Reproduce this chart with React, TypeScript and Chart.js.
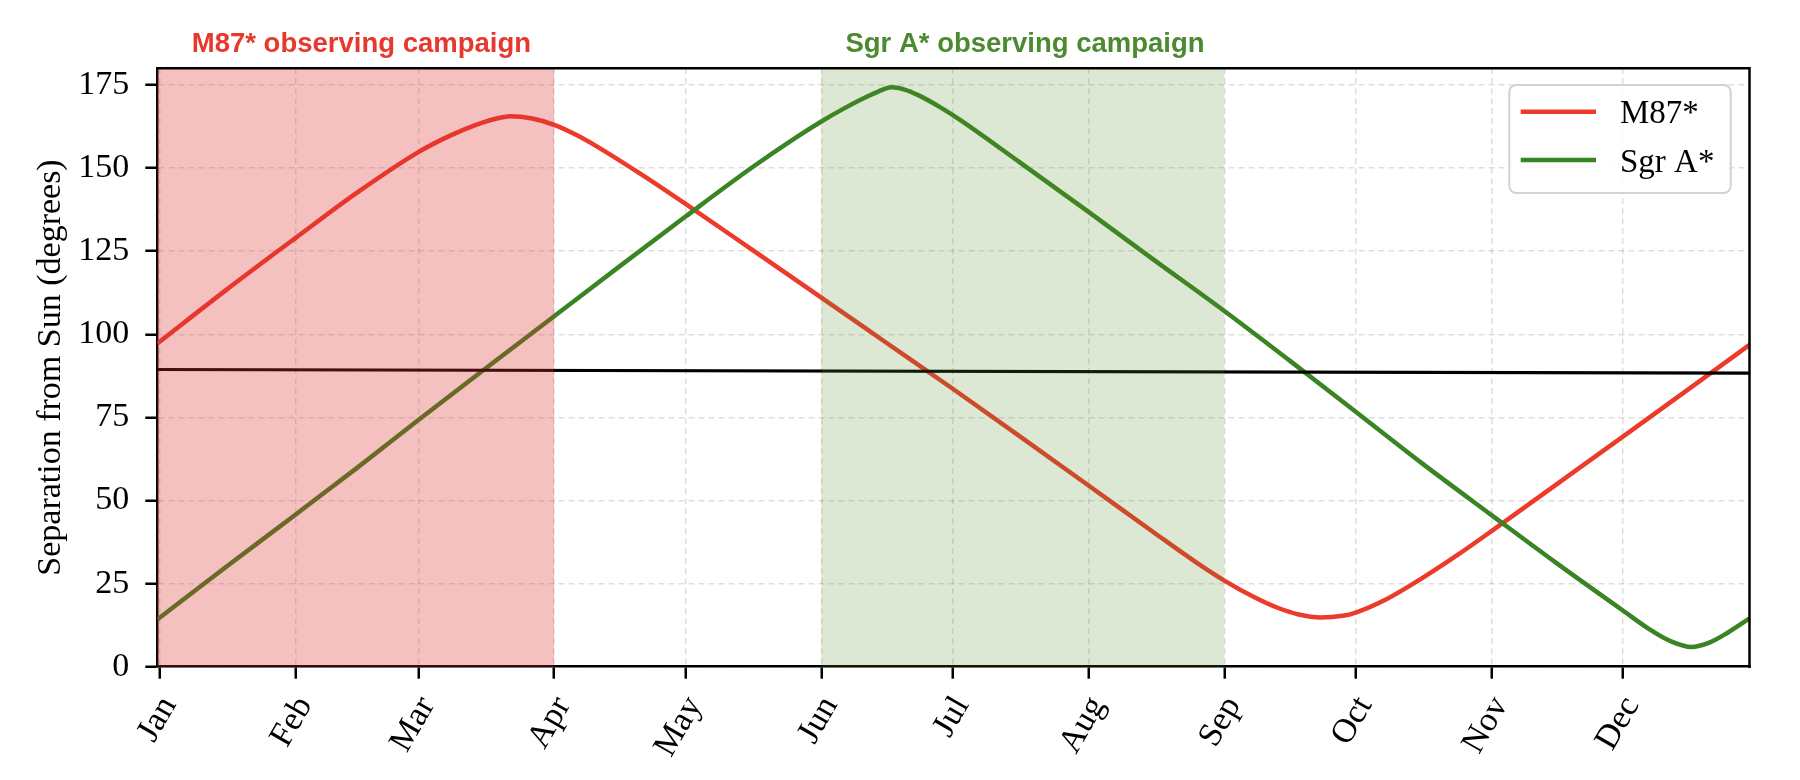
import React, { useEffect, useRef } from 'react';
import { Chart, registerables } from 'chart.js';

Chart.register(...registerables);

// ---------- data ----------
const monthLabels = ['Jan', 'Feb', 'Mar', 'Apr', 'May', 'Jun', 'Jul', 'Aug', 'Sep', 'Oct', 'Nov', 'Dec'];
const monthStartDays = [0, 31, 59, 90, 120, 151, 181, 212, 243, 273, 304, 334];
const yTickValues = [0, 25, 50, 75, 100, 125, 150, 175];
const xMinDay = -0.6;
const xMaxDay = 362.9;
const yMinDeg = 0;
const yMaxDeg = 180;

const seriesLabels = ['M87*', 'Sgr A*'];

const m87Days = [-0.6, 15, 31, 45, 59, 66, 72, 76, 80, 85, 90, 95, 100, 110, 120, 135, 151, 166, 181, 196, 212, 227, 237, 243, 250, 255, 260, 265, 270, 273, 280, 288, 296, 304, 319, 334, 349, 362.9];
const m87Separation = [97.2, 113.2, 129.0, 142.6, 154.8, 159.6, 162.9, 164.6, 165.6, 164.9, 163.0, 160.0, 156.3, 148.0, 139.2, 125.6, 111.0, 97.3, 83.6, 69.6, 54.5, 40.3, 31.0, 25.9, 20.8, 17.8, 15.7, 14.8, 15.3, 16.3, 20.3, 26.5, 33.4, 40.8, 55.0, 69.2, 83.5, 96.8];

const sgrDays = [-0.6, 15, 31, 45, 59, 75, 90, 105, 120, 135, 145, 151, 156, 161, 164, 167, 170, 173, 178, 183, 196, 212, 227, 243, 258, 273, 288, 304, 319, 334, 340, 345, 349.6, 354, 358, 362.9];
const sgrSeparation = [14.2, 29.9, 45.8, 59.8, 74.2, 90.4, 105.4, 120.5, 135.4, 150.0, 159.0, 164.0, 167.8, 171.2, 173.0, 174.3, 173.6, 172.0, 168.4, 164.2, 152.0, 136.8, 122.3, 107.0, 92.0, 76.7, 61.3, 45.6, 31.0, 16.9, 11.3, 7.6, 5.9, 7.4, 10.3, 14.5];

const refLineDays = [-0.6, 362.9];
const refLineValues = [89.4, 88.3];

const m87CampaignDays = [-0.6, 90];
const sgrCampaignDays = [151, 243];
const campaignTitles = ['M87* observing campaign', 'Sgr A* observing campaign'];
const campaignTitleDays = [46, 197.5];

// ---------- styles ----------
const RED = '#ec3a2b';
const GREEN = '#3a8424';
const RED_TITLE = '#e8372c';
const GREEN_TITLE = '#4c8a30';
const SERIF = "'Liberation Serif', 'Times New Roman', Times, serif";
const SANS = "'Liberation Sans', Arial, Helvetica, sans-serif";

const toXY = (xs: number[], ys: number[]) => xs.map((x, i) => ({ x, y: ys[i] }));

const decorPlugin = {
  id: 'decor',
  afterDatasetsDraw(chart: any) {
    const { ctx, chartArea: ca, scales } = chart;
    const xs = scales.x;
    const ys = scales.y;
    ctx.save();
    // campaign shading (drawn over the curves, like the reference)
    const shade = (days: number[], color: string) => {
      const x1 = Math.max(ca.left, xs.getPixelForValue(days[0]));
      const x2 = Math.min(ca.right, xs.getPixelForValue(days[1]));
      const yTop = ys.getPixelForValue(yMaxDeg);
      const yBot = ys.getPixelForValue(yMinDeg);
      ctx.fillStyle = color;
      ctx.fillRect(x1, yTop, x2 - x1, yBot - yTop);
    };
    shade(m87CampaignDays, 'rgba(218, 45, 45, 0.3)');
    shade(sgrCampaignDays, 'rgba(85, 140, 40, 0.2)');

    // top and right spines
    ctx.strokeStyle = '#000';
    ctx.lineWidth = 2.5;
    ctx.beginPath();
    ctx.moveTo(ca.left - 1.25, ca.top);
    ctx.lineTo(ca.right, ca.top);
    ctx.lineTo(ca.right, ca.bottom + 1.25);
    ctx.stroke();
    ctx.restore();
  },
  afterDraw(chart: any) {
    const { ctx, chartArea: ca, scales } = chart;
    const xs = scales.x;
    ctx.save();
    // campaign titles
    ctx.font = `bold 27.5px ${SANS}`;
    ctx.textAlign = 'center';
    ctx.textBaseline = 'alphabetic';
    ctx.fillStyle = RED_TITLE;
    ctx.fillText(campaignTitles[0], xs.getPixelForValue(campaignTitleDays[0]), ca.top - 16.6);
    ctx.fillStyle = GREEN_TITLE;
    ctx.fillText(campaignTitles[1], xs.getPixelForValue(campaignTitleDays[1]), ca.top - 16.6);

    // legend
    const boxW = 221.4;
    const boxH = 108;
    const bx = ca.right - 18.8 - boxW;
    const by = ca.top + 16.7;
    ctx.beginPath();
    (ctx as any).roundRect(bx, by, boxW, boxH, 7);
    ctx.fillStyle = 'rgba(255,255,255,0.85)';
    ctx.fill();
    ctx.strokeStyle = '#d2d2d2';
    ctx.lineWidth = 2;
    ctx.stroke();
    const colors = [RED, GREEN];
    ctx.font = `33px ${SERIF}`;
    ctx.textAlign = 'left';
    seriesLabels.forEach((lab, i) => {
      const ly = by + 26.7 + i * 48.3;
      ctx.strokeStyle = colors[i];
      ctx.lineWidth = 4.5;
      ctx.beginPath();
      ctx.moveTo(bx + 11.4, ly);
      ctx.lineTo(bx + 86.7, ly);
      ctx.stroke();
      ctx.fillStyle = '#000';
      ctx.fillText(lab, bx + 110.7, ly + 11.5);
    });
    ctx.restore();
  },
};

export default function App() {
  const canvasRef = useRef<HTMLCanvasElement | null>(null);

  useEffect(() => {
    const canvas = canvasRef.current;
    if (!canvas) return;
    const chart = new Chart(canvas, {
      type: 'line',
      data: {
        datasets: [
          {
            label: 'horizon',
            data: toXY(refLineDays, refLineValues),
            borderColor: '#000',
            borderWidth: 3.2,
            pointRadius: 0,
            order: 0,
          },
          {
            label: seriesLabels[1],
            data: toXY(sgrDays, sgrSeparation),
            borderColor: GREEN,
            borderWidth: 4.5,
            pointRadius: 0,
            cubicInterpolationMode: 'monotone',
            order: 1,
          },
          {
            label: seriesLabels[0],
            data: toXY(m87Days, m87Separation),
            borderColor: RED,
            borderWidth: 4.5,
            pointRadius: 0,
            cubicInterpolationMode: 'monotone',
            order: 2,
          },
        ],
      },
      options: {
        animation: false,
        responsive: false,
        devicePixelRatio: 1,
        layout: { padding: { top: 68.3, right: 50.5, left: 0, bottom: 0 } },
        plugins: {
          legend: { display: false },
          tooltip: { enabled: false },
        },
        scales: {
          x: {
            type: 'linear',
            min: xMinDay,
            max: xMaxDay,
            afterBuildTicks: (scale: any) => {
              scale.ticks = monthStartDays.map((v) => ({ value: v }));
            },
            afterFit: (scale: any) => {
              scale.height = 780 - 666.7;
            },
            ticks: {
              autoSkip: false,
              minRotation: 60,
              maxRotation: 60,
              labelOffset: 9,
              padding: 11,
              color: '#000',
              font: { family: SERIF, size: 34 },
              callback: (_v: any, i: number) => monthLabels[i],
            },
            grid: {
              color: 'rgba(0,0,0,0.13)',
              lineWidth: 1.5,
              tickColor: '#000',
              tickWidth: 2.5,
              tickLength: 12,
            },
            border: { display: true, color: '#000', width: 2.5, dash: [6, 4] },
          },
          y: {
            type: 'linear',
            min: yMinDeg,
            max: yMaxDeg,
            afterBuildTicks: (scale: any) => {
              scale.ticks = yTickValues.map((v) => ({ value: v }));
            },
            afterFit: (scale: any) => {
              scale.width = 157.3;
            },
            ticks: {
              padding: 16,
              color: '#000',
              font: { family: SERIF, size: 34 },
            },
            grid: {
              color: 'rgba(0,0,0,0.13)',
              lineWidth: 1.5,
              tickColor: '#000',
              tickWidth: 2.5,
              tickLength: 12,
            },
            border: { display: true, color: '#000', width: 2.5, dash: [6, 4] },
            title: {
              display: true,
              text: 'Separation from Sun (degrees)',
              color: '#000',
              font: { family: SERIF, size: 34 },
              padding: { top: 31, bottom: 0 },
            },
          },
        },
      } as any,
      plugins: [decorPlugin],
    });
    return () => chart.destroy();
  }, []);

  return (
    <div style={{ position: 'fixed', left: 0, top: 0, width: 1800, height: 780, background: '#fff' }}>
      <canvas ref={canvasRef} width={1800} height={780} style={{ width: 1800, height: 780, display: 'block' }} />
    </div>
  );
}
